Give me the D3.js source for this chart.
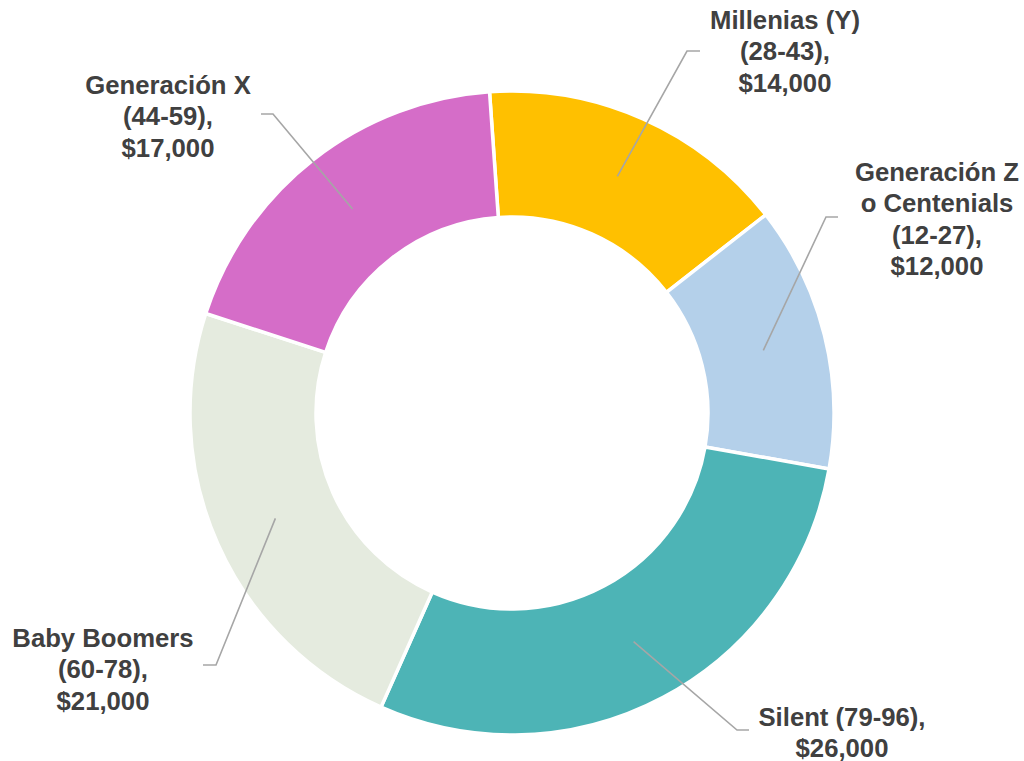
<!DOCTYPE html>
<html>
<head>
<meta charset="utf-8">
<script src="https://cdn.jsdelivr.net/npm/d3@7"></script>
<style>
  body { margin: 0; background: #fff; }
  text { font-family: "Liberation Sans", Arial, sans-serif; font-weight: bold; fill: #404040; }
</style>
</head>
<body>
<div class="donut"></div>
<script>
// data
var categories = ["Millenias (Y)", "Generación Z o Centenials", "Silent", "Baby Boomers", "Generación X"];
var ages = ["(28-43)", "(12-27)", "(79-96)", "(60-78)", "(44-59)"];
var values = [14000, 12000, 26000, 21000, 17000];
var colors = ["#FFC000", "#B4D0EA", "#4DB4B6", "#E5EBDF", "#D56DC8"];

// label text broken in lines, like the original
var labelLines = [
    ["Millenias (Y)", "(28-43),", "$14,000"],
    ["Generación Z", "o Centenials", "(12-27),", "$12,000"],
    ["Silent (79-96),", "$26,000"],
    ["Baby Boomers", "(60-78),", "$21,000"],
    ["Generación X", "(44-59),", "$17,000"]
];

// layout: label centre (first line), and leader elbow [x, y, endX]
var labelAt = [[785, 20], [937, 172], [842, 717], [103, 638], [168, 85]];
var elbowAt = [[687, 51, 700], [826, 217, 838], [737, 730, 749], [216, 665, 203], [273, 114, 261]];

var div_width = 1024;
var div_height = 761;
var cx = 512, cy = 413;
var outerR = 322, innerR = 196;
var lineH = 31.5;

var svg = d3.select(".donut").append("svg")
    .attr("width", div_width)
    .attr("height", div_height);

var g = svg.append("g")
    .attr("transform", "translate(" + cx + "," + cy + ")");

var startA = -4 * Math.PI / 180;
var pie = d3.pie()
    .sort(null)
    .startAngle(startA)
    .endAngle(startA + 2 * Math.PI)
    .value(function (d) { return d; });

var arc = d3.arc()
    .innerRadius(innerR)
    .outerRadius(outerR);

var arcs = pie(values);

g.selectAll("path.slice")
    .data(arcs)
    .enter().append("path")
    .attr("class", "slice")
    .attr("d", arc)
    .attr("fill", function (d, i) { return colors[i]; })
    .attr("stroke", "#fff")
    .attr("stroke-width", 3.5)
    .attr("stroke-linejoin", "round");

// leader lines from slice centroid
svg.selectAll("polyline.leader")
    .data(arcs)
    .enter().append("polyline")
    .attr("class", "leader")
    .attr("points", function (d, i) {
        var c = arc.centroid(d);
        var e = elbowAt[i];
        return (c[0] + cx) + "," + (c[1] + cy) + " " + e[0] + "," + e[1] + " " + e[2] + "," + e[1];
    })
    .attr("fill", "none")
    .attr("stroke", "#A6A6A6")
    .attr("stroke-width", 1.6);

// labels
var lbl = svg.selectAll("text.lbl")
    .data(arcs)
    .enter().append("text")
    .attr("class", "lbl")
    .attr("text-anchor", "middle")
    .style("font-size", "25.7px");

lbl.each(function (d, i) {
    var t = d3.select(this);
    labelLines[i].forEach(function (s, k) {
        t.append("tspan")
            .attr("x", labelAt[i][0])
            .attr("y", labelAt[i][1] + k * lineH)
            .attr("dy", "0.35em")
            .text(s);
    });
});
</script>
</body>
</html>
